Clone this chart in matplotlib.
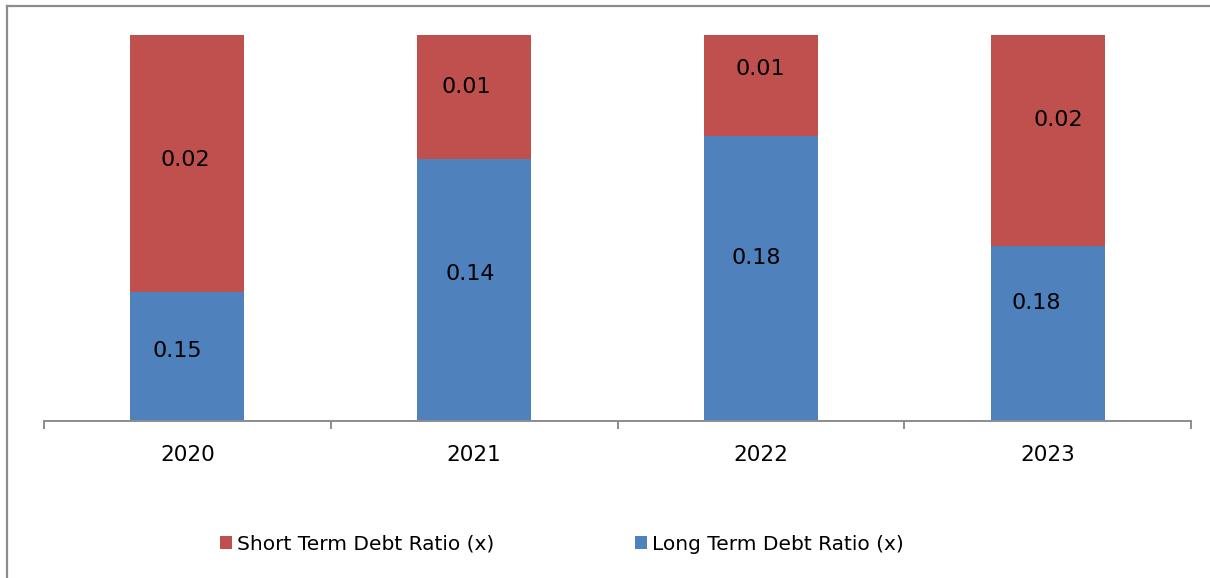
import matplotlib
matplotlib.use("Agg")
import matplotlib.pyplot as plt
from matplotlib.lines import Line2D
from matplotlib.patches import Patch
import numpy as np

# Years and the share of each debt type in the stacked column (fraction of 1)
years = ["2020", "2021", "2022", "2023"]
long_share = [0.334, 0.679, 0.738, 0.453]
short_share = [0.666, 0.321, 0.262, 0.547]

# Ratio values printed on each segment
long_labels = ["0.15", "0.14", "0.18", "0.18"]
short_labels = ["0.02", "0.01", "0.01", "0.02"]

series_names = ["Short Term Debt Ratio (x)", "Long Term Debt Ratio (x)"]

RED = "#C0504D"
BLUE = "#4F81BD"
GRID = "#8c8c8c"

# Label nudges in pixels (dx, dy) relative to each segment centre
long_nudge = [(-10, 6), (-4, 16), (-5, 21), (-11, 31)]
short_nudge = [(-2, 4), (-8, 10), (-1, 17), (11, 21)]

W, H = 1210, 578
fig = plt.figure(figsize=(W / 100, H / 100), dpi=100)
ax = fig.add_axes([44 / W, 1 - 421 / H, (1191 - 44) / W, (421 - 35) / H])

x = np.arange(len(years))
bw = 0.397
ax.bar(x, long_share, width=bw, color=BLUE, linewidth=0, zorder=2)
ax.bar(x, short_share, width=bw, bottom=long_share, color=RED, linewidth=0, zorder=2)

for i in range(len(years)):
    cy = long_share[i] / 2
    ax.annotate(long_labels[i], (x[i], cy), xytext=long_nudge[i],
                textcoords="offset pixels", ha="center", va="center",
                fontsize=16, color="black", zorder=3)
    cy = long_share[i] + short_share[i] / 2
    ax.annotate(short_labels[i], (x[i], cy), xytext=short_nudge[i],
                textcoords="offset pixels", ha="center", va="center",
                fontsize=16, color="black", zorder=3)

ax.set_xlim(-0.5, len(years) - 0.5)
ax.set_ylim(0, 1)
for s in ["left", "right", "top"]:
    ax.spines[s].set_visible(False)
ax.spines["bottom"].set_color(GRID)
ax.spines["bottom"].set_linewidth(1.4)
ax.set_yticks([])
ax.set_xticks(x)
ax.set_xticklabels(years, fontsize=15.5)
ax.tick_params(axis="x", which="major", length=0, pad=17)
ax.set_xticks(np.arange(-0.5, len(years)), minor=True)
ax.tick_params(axis="x", which="minor", length=6, width=1.4, color=GRID, direction="out")

# Legend below the plot
handles = [Patch(facecolor=RED, edgecolor="none"), Patch(facecolor=BLUE, edgecolor="none")]
fig.legend(handles, series_names, loc="center", ncol=2,
           bbox_to_anchor=(562 / W, 1 - 544 / H), frameon=False,
           fontsize=14.5, handlelength=0.6, handleheight=0.6,
           handletextpad=0.25, columnspacing=7.0)

# Chart area border (left and top edges)
fig.add_artist(Line2D([7 / W, 7 / W], [0, 1 - 6 / H], transform=fig.transFigure,
                      color=GRID, linewidth=1.6))
fig.add_artist(Line2D([7 / W, 1], [1 - 6 / H, 1 - 6 / H], transform=fig.transFigure,
                      color=GRID, linewidth=1.6))

fig.savefig("out.png", dpi=100)
